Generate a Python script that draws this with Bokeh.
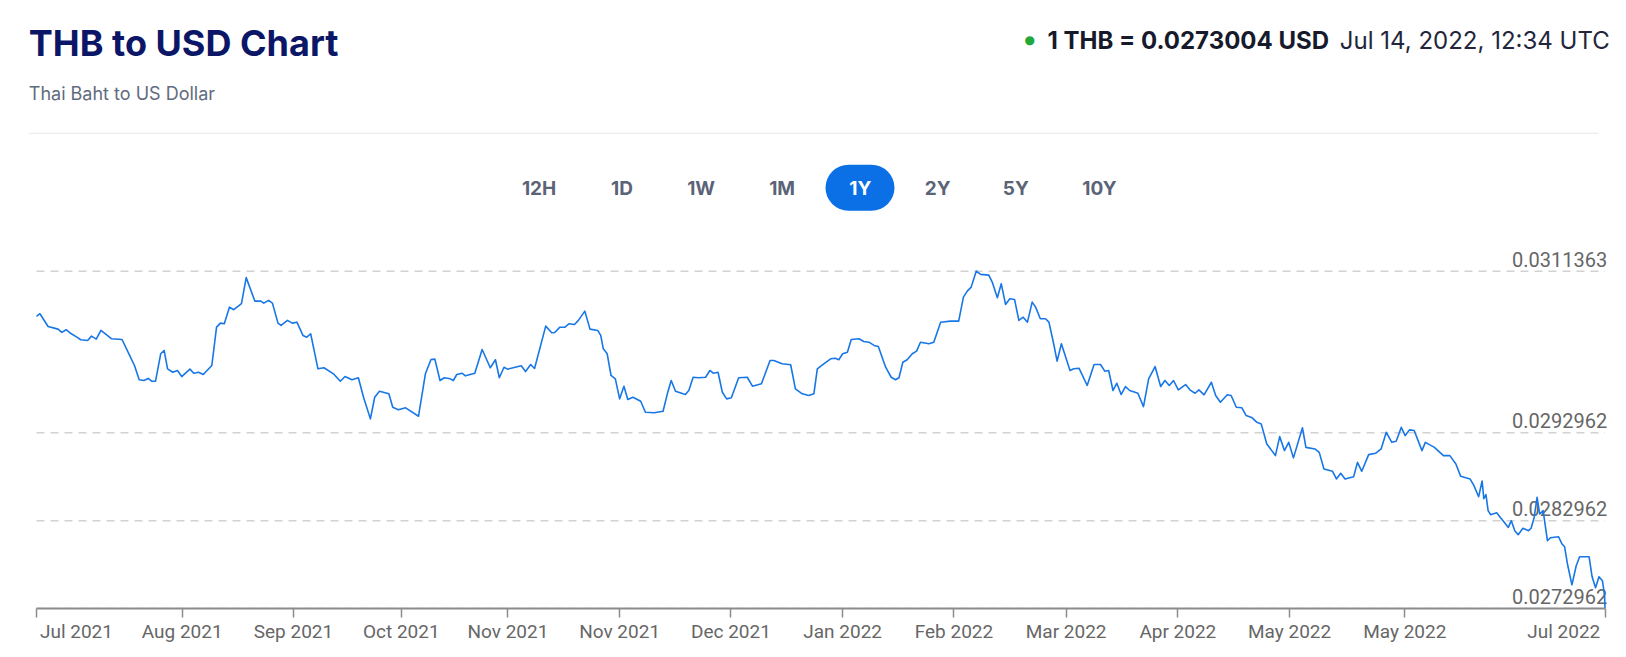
from bokeh.plotting import figure
from bokeh.models import (Range1d, FixedTicker, LabelSet, ColumnDataSource,
                          BoxAnnotation, CustomJSTickFormatter, LinearAxis)
from bokeh.core.properties import value
from bokeh.embed import file_html
from bokeh.resources import INLINE

# ---------------- texts ----------------
title_text = "THB to USD Chart"
subtitle_text = "Thai Baht to US Dollar"
rate_text = "1 THB = 0.0273004 USD"
time_text = "Jul 14, 2022, 12:34 UTC"

# ---------------- data (days since Jul 14, 2021 ; USD per THB) ----------------
day_h2_2021 = [
    0, 0.8, 2.7, 5.0, 5.9, 6.9, 8.1, 9.4, 10.3, 11.9,
    12.8, 13.9, 15.0, 17.5, 19.9, 21.5, 22.8, 23.9, 25.0, 26.0,
    26.8, 27.7, 28.9, 29.7, 30.5, 31.7, 32.8, 33.8, 35.7, 36.6,
    37.7, 38.8, 40.8, 41.9, 42.8, 43.7, 44.9, 45.9, 47.7, 48.8,
    50.8, 52.2, 52.9, 54.0, 54.9, 56.2, 56.9, 58.4, 59.5, 60.6,
    62.0, 62.9, 63.8, 65.5, 66.9, 69.1, 70.7, 71.8, 73.4, 74.9,
    76.1, 77.7, 78.7, 79.8, 82.0, 82.9, 84.2, 85.9, 88.9, 90.5,
    91.8, 92.7, 93.9, 94.9, 96.3, 97.0, 97.8, 99.0, 99.8, 102.0,
    103.7, 105.6, 106.8, 107.7, 108.8, 109.6, 111.4, 112.8, 113.8, 115.0,
    115.9, 118.5, 119.9, 120.6, 121.8, 123.0, 123.9, 125.2, 126.1, 127.6,
    128.8, 130.6,
]
rate_h2_2021 = [
    0.030621, 0.030652, 0.030507, 0.030477, 0.030439, 0.030470, 0.030424, 0.030385, 0.030356, 0.030348,
    0.030397, 0.030363, 0.030462, 0.030367, 0.030359, 0.030196, 0.030063, 0.029900, 0.029892, 0.029915,
    0.029884, 0.029884, 0.030196, 0.030234, 0.030025, 0.029986, 0.030006, 0.029937, 0.030021, 0.029975,
    0.029986, 0.029960, 0.030063, 0.030499, 0.030545, 0.030538, 0.030727, 0.030698, 0.030766, 0.031063,
    0.030796, 0.030796, 0.030773, 0.030804, 0.030773, 0.030545, 0.030519, 0.030576, 0.030545, 0.030556,
    0.030405, 0.030385, 0.030424, 0.030025, 0.030037, 0.029968, 0.029884, 0.029937, 0.029900, 0.029923,
    0.029701, 0.029455, 0.029701, 0.029770, 0.029740, 0.029587, 0.029558, 0.029581, 0.029485, 0.029968,
    0.030131, 0.030135, 0.029892, 0.029923, 0.029911, 0.029892, 0.029960, 0.029975, 0.029945, 0.029975,
    0.030245, 0.030037, 0.030128, 0.029923, 0.030043, 0.030021, 0.030043, 0.030059, 0.029994, 0.030074,
    0.030029, 0.030511, 0.030436, 0.030439, 0.030499, 0.030499, 0.030538, 0.030530, 0.030576, 0.030682,
    0.030477, 0.030462,
]
day_winter = [
    131.3, 131.9, 132.8, 133.7, 134.7, 135.7, 136.7, 137.6, 138.8, 140.6,
    141.7, 143.7, 145.8, 146.8, 147.7, 148.7, 151.0, 151.8, 152.8, 154.1,
    155.7, 156.7, 157.5, 158.6, 159.6, 160.6, 161.7, 163.4, 165.4, 166.6,
    168.7, 170.7, 171.6, 173.5, 175.5, 176.6, 178.2, 179.7, 180.9, 181.7,
    183.2, 184.8, 185.9, 186.7, 187.6, 188.7, 189.6, 191.4, 192.5, 193.7,
    194.9, 195.9, 197.6, 198.9, 199.9, 200.7, 201.6, 202.6, 203.8, 204.8,
    205.7, 207.7, 208.8, 210.4, 212.7, 214.6, 215.7, 216.6, 217.5, 218.7,
    219.7, 221.6, 222.4, 223.6, 224.5, 225.5, 226.5, 227.6, 228.6, 229.6,
    230.6, 231.7, 232.5, 233.6, 234.8, 235.6, 236.7, 237.5, 238.5, 240.5,
    241.4, 242.6, 244.5, 246.1, 247.6,
]
rate_winter = [
    0.030405, 0.030253, 0.030196, 0.029949, 0.029911, 0.029683, 0.029827, 0.029675, 0.029701, 0.029656,
    0.029530, 0.029524, 0.029542, 0.029740, 0.029892, 0.029770, 0.029732, 0.029778, 0.029929, 0.029923,
    0.029929, 0.030006, 0.029975, 0.029986, 0.029758, 0.029683, 0.029695, 0.029923, 0.029929, 0.029827,
    0.029854, 0.030120, 0.030120, 0.030082, 0.030071, 0.029797, 0.029740, 0.029721, 0.029740, 0.030025,
    0.030082, 0.030139, 0.030146, 0.030128, 0.030196, 0.030214, 0.030359, 0.030367, 0.030336, 0.030328,
    0.030291, 0.030279, 0.030043, 0.029929, 0.029900, 0.029923, 0.030100, 0.030128, 0.030196, 0.030226,
    0.030328, 0.030310, 0.030328, 0.030556, 0.030568, 0.030568, 0.030841, 0.030910, 0.030955, 0.031138,
    0.031100, 0.031092, 0.031012, 0.030835, 0.030994, 0.030758, 0.030823, 0.030815, 0.030576, 0.030613,
    0.030556, 0.030784, 0.030727, 0.030595, 0.030595, 0.030556, 0.030310, 0.030112, 0.030310, 0.030006,
    0.030025, 0.030032, 0.029835, 0.030074, 0.030074,
]
day_h1_2022 = [
    248.6, 249.5, 250.5, 251.4, 252.4, 253.4, 254.4, 256.3, 257.6, 258.8,
    260.3, 261.6, 262.6, 263.6, 264.6, 265.7, 267.4, 268.4, 269.6, 270.5,
    271.7, 273.4, 274.4, 275.5, 277.1, 278.0, 279.2, 280.5, 281.5, 282.9,
    284.0, 285.0, 286.3, 288.3, 289.3, 290.4, 291.4, 292.5, 294.6, 295.4,
    297.5, 298.5, 299.6, 301.6, 302.5, 303.5, 304.5, 306.5, 307.4, 308.4,
    310.0, 311.6, 312.9, 314.1, 315.4, 316.4, 317.6, 318.5, 319.5, 320.6,
    322.4, 323.2, 325.3, 327.4, 328.9, 330.3, 331.4, 333.6, 334.5, 335.6,
    336.4, 336.8, 337.3, 337.8, 338.4, 339.8, 340.7, 341.6, 342.5, 343.2,
    344.0, 344.8, 345.9, 347.2, 347.8, 348.5, 349.2, 349.8, 350.6, 351.6,
    352.3, 354.2, 355.0, 355.6, 356.3, 357.3, 358.3, 359.1, 360.0, 361.3,
    362.0, 362.8, 363.6, 364.4, 364.9, 365.0,
]
rate_h1_2022 = [
    0.029998, 0.030006, 0.029778, 0.029861, 0.029732, 0.029823, 0.029778, 0.029747, 0.029595, 0.029911,
    0.030051, 0.029823, 0.029892, 0.029835, 0.029892, 0.029786, 0.029846, 0.029786, 0.029747, 0.029786,
    0.029729, 0.029872, 0.029721, 0.029644, 0.029729, 0.029721, 0.029587, 0.029581, 0.029493, 0.029467,
    0.029416, 0.029398, 0.029170, 0.029037, 0.029253, 0.029094, 0.029188, 0.029011, 0.029353, 0.029131,
    0.029113, 0.029074, 0.028885, 0.028858, 0.028771, 0.028835, 0.028771, 0.028797, 0.028960, 0.028858,
    0.029048, 0.029063, 0.029113, 0.029302, 0.029188, 0.029200, 0.029359, 0.029265, 0.029330, 0.029322,
    0.029094, 0.029188, 0.029131, 0.029037, 0.029037, 0.028942, 0.028803, 0.028771, 0.028695, 0.028569,
    0.028748, 0.028547, 0.028592, 0.028410, 0.028364, 0.028387, 0.028330, 0.028276, 0.028219, 0.028296,
    0.028182, 0.028136, 0.028210, 0.028182, 0.028210, 0.028330, 0.028561, 0.028372, 0.028410, 0.028068,
    0.028102, 0.028113, 0.028030, 0.027999, 0.027794, 0.027566, 0.027783, 0.027885, 0.027885, 0.027885,
    0.027657, 0.027532, 0.027657, 0.027612, 0.027452, 0.0273004,
]
day = day_h2_2021 + day_winter + day_h1_2022
rate = rate_h2_2021 + rate_winter + rate_h1_2022

x_tick_days = [0, 33.9, 59.8, 84.9, 109.7, 135.7, 161.6, 187.6, 213.5, 239.6, 265.6, 291.6, 318.4, 365]
x_tick_labels = ["Jul 2021", "Aug 2021", "Sep 2021", "Oct 2021", "Nov 2021", "Nov 2021", "Dec 2021",
                 "Jan 2022", "Feb 2022", "Mar 2022", "Apr 2022", "May 2022", "May 2022", "Jul 2022"]
y_ticks = [0.0272962, 0.0282962, 0.0292962, 0.0311363]
y_tick_labels = ["0.0272962", "0.0282962", "0.0292962", "0.0311363"]
range_buttons = ["12H", "1D", "1W", "1M", "1Y", "2Y", "5Y", "10Y"]
active_button = "1Y"

# ---------------- layout (page pixels; the frame covers the page down to the axis) ----------------
W, H = 1620, 652
AXIS_PAGE_Y = 608          # page y of the x axis line
PLOT_LEFT, PLOT_RIGHT = 36.0, 1604.5   # page x of first and last day
TOP_GRID_PAGE_Y = 270.7    # page y of the highest grid line
MB = H - AXIS_PAGE_Y


def sx(px):
    return px


def sy(py):
    return AXIS_PAGE_Y - py


d0, d1 = day[0], day[-1]
px_per_day = (PLOT_RIGHT - PLOT_LEFT) / (d1 - d0)
x_start = d0 - PLOT_LEFT / px_per_day
x_end = d1 + (W - PLOT_RIGHT) / px_per_day
y0 = y_ticks[0]
y_end = y0 + (y_ticks[-1] - y0) * AXIS_PAGE_Y / sy(TOP_GRID_PAGE_Y)

# label anchors: inner labels centred on their tick, the two end labels kept inside
label_days = list(x_tick_days)
label_days[0] += 9.3
label_days[-1] -= 9.6

button_centers = [538.6, 621.4, 700.6, 781.6, 859.8, 937.3, 1015.3, 1099.0]

LINE_BLUE = "#1877e6"
PILL_BLUE = "#0b6fe6"
AXIS_GRAY = "#8c8c8c"
LABEL_GRAY = "#666666"

p = figure(width=W, height=H, x_range=Range1d(x_start, x_end), y_range=Range1d(y0, y_end),
           output_backend="svg", toolbar_location=None, y_axis_location=None,
           min_border_left=0, min_border_right=0, min_border_top=0, min_border_bottom=MB,
           outline_line_color=None, background_fill_color="white", border_fill_color="white")

# x axis: line and tick marks
p.xaxis.ticker = FixedTicker(ticks=x_tick_days)
p.xaxis.formatter = CustomJSTickFormatter(code="return ''")
p.xaxis.bounds = (d0, d1)
p.xaxis.axis_line_color = AXIS_GRAY
p.xaxis.axis_line_width = 2
p.xaxis.major_tick_line_color = AXIS_GRAY
p.xaxis.major_tick_line_width = 1.5
p.xaxis.major_tick_out = 9
p.xaxis.major_tick_in = 0
p.xaxis.minor_tick_line_color = None
p.xaxis.major_label_standoff = 0
p.xaxis.major_label_text_font_size = "0px"

# x axis: month labels
label_axis = LinearAxis(ticker=FixedTicker(ticks=label_days),
                        formatter=CustomJSTickFormatter(args=dict(labels=x_tick_labels),
                                                        code="return labels[index]"),
                        axis_line_color=None, major_tick_line_color=None,
                        minor_tick_line_color=None, major_tick_in=0, major_tick_out=0,
                        major_label_standoff=2, major_label_text_font="Roboto",
                        major_label_text_font_size="19px", major_label_text_color=LABEL_GRAY)
p.add_layout(label_axis, "below")

# grid
p.xgrid.visible = False
p.ygrid.visible = False
p.segment(x0=d0, x1=d1, y0=y_ticks, y1=y_ticks, line_color="#d2d2d2",
          line_dash="8 6", line_width=1.5)

# y labels (under the line)
ysrc = ColumnDataSource(dict(y=y_ticks, text=y_tick_labels))
p.add_layout(LabelSet(x=sx(1606.7), y="y", x_units="screen", text="text", source=ysrc,
                      text_align="right", text_baseline="alphabetic", y_offset=4.5,
                      text_font=value("Roboto"), text_font_size=value("20px"),
                      text_color=LABEL_GRAY, level="underlay"))

# rate line
src = ColumnDataSource(dict(day=day, rate=rate))
p.line(x="day", y="rate", source=src, line_color=LINE_BLUE, line_width=1.6, line_join="round")


def page_text(px, py, text, size, color, bold=False, align="left", baseline="alphabetic",
              font="Inter"):
    """A text placed at a page position (baseline point), drawn in screen units."""
    s = ColumnDataSource(dict(x=[sx(px)], y=[sy(py)], text=[text]))
    p.add_layout(LabelSet(x="x", y="y", x_units="screen", y_units="screen", text="text", source=s,
                          text_font=value(font), text_font_size=value(f"{size}px"),
                          text_font_style="bold" if bold else "normal", text_color=color,
                          text_align=align, text_baseline=baseline))


# header
page_text(28.3, 55.7, title_text, 36, "#0b1667", bold=True)
page_text(28.3, 99.0, subtitle_text, 18, "#5f6b7e")
page_text(1029.3, 39.5, "●", 12, "#22a83a", align="center", baseline="middle", font="DejaVu Sans")
page_text(1047.0, 48.0, rate_text, 24, "#161a2b", bold=True)
page_text(1609.2, 48.0, time_text, 24, "#23263a", align="right")

# separator
p.add_layout(BoxAnnotation(left=sx(28), right=sx(1598), top=sy(132.2), bottom=sy(133.4),
                           left_units="screen", right_units="screen",
                           top_units="screen", bottom_units="screen",
                           fill_color="#ececec", fill_alpha=1, line_color=None))

# range buttons
p.add_layout(BoxAnnotation(left=sx(825), right=sx(894), top=sy(164.3), bottom=sy(210.3),
                           left_units="screen", right_units="screen",
                           top_units="screen", bottom_units="screen",
                           fill_color=PILL_BLUE, fill_alpha=1, line_color=None, border_radius=23))
for name, cx in zip(range_buttons, button_centers):
    page_text(cx, 194.3, name, 19, "white" if name == active_button else "#5b6377",
              bold=True, align="center")

open("out.html", "w").write(file_html(p, INLINE, title=title_text))
